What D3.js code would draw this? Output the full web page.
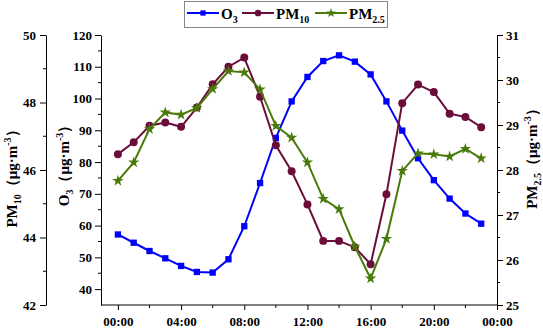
<!DOCTYPE html>
<html><head><meta charset="utf-8">
<script src="https://cdn.jsdelivr.net/npm/d3@7"></script>
<style>body{margin:0;background:#fff}svg{display:block}text{font-family:"Liberation Serif","Times New Roman",serif;font-weight:bold}</style>
</head><body>
<script>
const hours = d3.range(0,24);
const o3 = [57.2,54.6,52.0,49.7,47.3,45.4,45.2,49.4,59.8,73.4,87.6,99.1,106.8,111.8,113.6,111.6,107.6,99.1,89.9,81.2,74.3,68.5,63.8,60.6];
const pm10 = [46.47,46.82,47.31,47.41,47.28,47.85,48.54,49.06,49.33,48.17,46.73,45.96,44.98,43.90,43.90,43.71,43.21,45.28,47.98,48.53,48.31,47.67,47.57,47.27];
const pm25 = [27.76,28.17,28.91,29.28,29.23,29.38,29.80,30.20,30.17,29.79,28.98,28.72,28.17,27.36,27.13,26.30,25.59,26.47,27.98,28.37,28.35,28.30,28.47,28.26];
const xTicks = [0,4,8,12,16,20,24];
const xTickLabels = ["00:00","04:00","08:00","12:00","16:00","20:00","00:00"];
const o3Ticks = [40,50,60,70,80,90,100,110,120];
const pm10Ticks = [42,44,46,48,50];
const pm25Ticks = [25,26,27,28,29,30,31];

const W=543,H=330;
const svg=d3.select("body").append("svg").attr("width",W).attr("height",H);
const L=101,R=497,T=35,B=305;
const x=d3.scaleLinear().domain([-1.07,24]).range([L,R]);
const yO3=d3.scaleLinear().domain([35,120]).range([B,T]);
const yPM10=d3.scaleLinear().domain([42,50]).range([B,T]);
const yPM25=d3.scaleLinear().domain([25,31]).range([B,T]);
const cO3="#0000ff",cPM10="#6b0d3b",cPM25="#4a7a0a";

function styleAxis(g,fs){g.attr("font-family",null).attr("font-size",null);
 g.select(".domain").attr("stroke","#000").attr("stroke-width",1);
 g.selectAll(".tick line").attr("stroke","#000");
 g.selectAll("text").attr("font-size",fs).attr("fill","#000").style("font-family","Liberation Serif").style("font-weight","bold");}
const fmt=d3.format("d");

// O3 axis
const gO3=svg.append("g").attr("transform",`translate(${L},0)`)
 .call(d3.axisLeft(yO3).tickValues(o3Ticks).tickFormat(fmt).tickSize(6).tickSizeOuter(0).tickPadding(3));
styleAxis(gO3,13);
svg.append("g").selectAll("line").data(d3.range(45,120,10)).join("line")
 .attr("x1",L).attr("x2",L-3).attr("y1",d=>yO3(d)).attr("y2",d=>yO3(d)).attr("stroke","#000");
// PM10 axis
const gP10=svg.append("g").attr("transform",`translate(46,0)`)
 .call(d3.axisLeft(yPM10).tickValues(pm10Ticks).tickFormat(fmt).tickSize(6).tickSizeOuter(0).tickPadding(4));
styleAxis(gP10,13);
svg.append("g").selectAll("line").data([43,45,47,49]).join("line")
 .attr("x1",46).attr("x2",43).attr("y1",d=>yPM10(d)).attr("y2",d=>yPM10(d)).attr("stroke","#000");
// PM2.5 axis
const gP25=svg.append("g").attr("transform",`translate(${R},0)`)
 .call(d3.axisRight(yPM25).tickValues(pm25Ticks).tickFormat(fmt).tickSize(6).tickSizeOuter(0).tickPadding(3));
styleAxis(gP25,13);
svg.append("g").selectAll("line").data([25.5,26.5,27.5,28.5,29.5,30.5]).join("line")
 .attr("x1",R).attr("x2",R+3).attr("y1",d=>yPM25(d)).attr("y2",d=>yPM25(d)).attr("stroke","#000");
// X axis
const gx=svg.append("g").attr("transform",`translate(0,${B})`)
 .call(d3.axisBottom(x).tickValues(xTicks).tickFormat((d,i)=>xTickLabels[i]).tickSize(5).tickSizeOuter(0).tickPadding(7));
styleAxis(gx,13);
gx.select(".domain").attr("d",`M${L},0H${R}`);
svg.append("g").selectAll("line").data([2,6,10,14,18,22]).join("line")
 .attr("x1",d=>x(d)).attr("x2",d=>x(d)).attr("y1",B).attr("y2",B+3).attr("stroke","#000");

// Axis titles
function title(tx,ty,main,sub){
 const t=svg.append("text").attr("transform",`translate(${tx},${ty}) rotate(-90)`).attr("text-anchor","middle").attr("font-size",15).attr("fill","#000");
 t.append("tspan").text(main);
 t.append("tspan").attr("font-size",10).attr("dy",4).text(sub);
 t.append("tspan").attr("dy",-4).text("（μg·m");
 t.append("tspan").attr("font-size",10).attr("dy",-6).text("-3");
 t.append("tspan").attr("dy",6).text("）");
}
title(17,175,"PM","10");
title(69,162,"O","3");
title(537,155,"PM","2.5");

// lines
const series=[{v:o3,y:yO3,c:cO3,m:"square"},{v:pm10,y:yPM10,c:cPM10,m:"circle"},{v:pm25,y:yPM25,c:cPM25,m:"star"}];
const symSize={square:40,circle:50,star:40};
const symType={square:d3.symbolSquare,circle:d3.symbolCircle,star:d3.symbolStar};
series.forEach(s=>{
 svg.append("path").datum(hours).attr("fill","none").attr("stroke",s.c).attr("stroke-width",2)
  .attr("d",d3.line().x(h=>x(h)).y((h,i)=>s.y(s.v[i])));
 svg.append("g").selectAll("path").data(hours).join("path")
  .attr("transform",(h,i)=>`translate(${x(h)},${s.y(s.v[i])})`)
  .attr("d",d3.symbol().type(symType[s.m]).size(symSize[s.m])).attr("fill",s.c);
});

// legend
const lg=svg.append("g");
lg.append("rect").attr("x",184.5).attr("y",1.5).attr("width",203).attr("height",26).attr("fill","#fff").attr("stroke","#888");
const items=[{c:cO3,m:"square",main:"O",sub:"3",x:187},{c:cPM10,m:"circle",main:"PM",sub:"10",x:242},{c:cPM25,m:"star",main:"PM",sub:"2.5",x:315}];
items.forEach(it=>{
 lg.append("line").attr("x1",it.x).attr("x2",it.x+32).attr("y1",13).attr("y2",13).attr("stroke",it.c).attr("stroke-width",2);
 lg.append("path").attr("transform",`translate(${it.x+16},13)`).attr("d",d3.symbol().type(symType[it.m]).size(symSize[it.m]*0.7)).attr("fill",it.c);
 const t=lg.append("text").attr("x",it.x+34).attr("y",19).attr("font-size",15).attr("fill","#000");
 t.append("tspan").text(it.main);
 t.append("tspan").attr("font-size",10).attr("dy",4).text(it.sub);
});
</script>
</body></html>
